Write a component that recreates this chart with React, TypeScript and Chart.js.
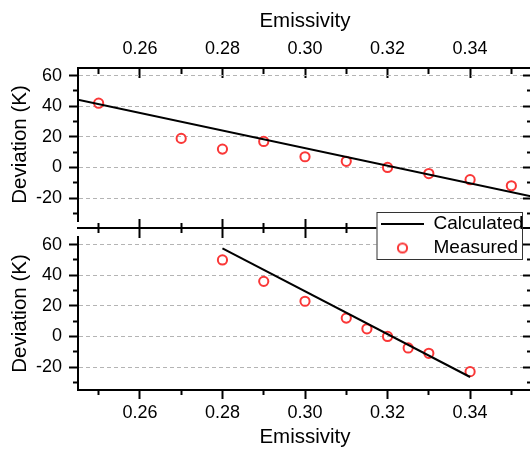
import React, { useEffect, useRef } from 'react';
import { Chart, registerables } from 'chart.js';

Chart.register(...registerables);

// ---------------- data ----------------
const seriesNames = ['Calculated', 'Measured'];

const xMajorTicks = [0.26, 0.28, 0.30, 0.32, 0.34];
const xTickLabels = ['0.26', '0.28', '0.30', '0.32', '0.34'];
const xMinorTicks = [0.25, 0.27, 0.29, 0.31, 0.33, 0.35];
const yMajorTicks = [-20, 0, 20, 40, 60];
const yTickLabels = ['-20', '0', '20', '40', '60'];
const yMinorTicks = [-30, -10, 10, 30, 50];

const topMeasuredX = [0.25, 0.27, 0.28, 0.29, 0.30, 0.31, 0.32, 0.33, 0.34, 0.35];
const topMeasuredY = [42, 19, 12, 17, 7, 4, 0, -4, -8, -12];
const topCalcX = [0.245, 0.355];
const topCalcY = [44.3, -19.0];

const botMeasuredX = [0.28, 0.29, 0.30, 0.31, 0.315, 0.32, 0.325, 0.33, 0.34];
const botMeasuredY = [50, 36, 23, 12, 5, 0, -7.5, -11, -23];
const botCalcX = [0.28, 0.34];
const botCalcY = [57.5, -26.5];

const X_RANGE = [0.245, 0.355];
const Y_RANGE = [-35, 65];

// ---------------- style ----------------
const FONT = "'Liberation Sans', Arial, sans-serif";
const RED = 'rgb(250, 55, 55)';
const GRID = '#b4b4b4';
const PANEL_H = 153; // px height of each panel's plot area

const tickFont = { family: FONT, size: 18, lineHeight: 1 };
const titleFont = { family: FONT, size: 20.5, lineHeight: 1 };

const pts = (xs: number[], ys: number[]) => xs.map((x, i) => ({ x, y: ys[i] }));
// value slightly above the panel top (used for the divider axis between panels)
const yAbove = (px: number) => Y_RANGE[1] + (px * (Y_RANGE[1] - Y_RANGE[0])) / PANEL_H;

type AxisSpec = {
  axis: 'x' | 'y';
  position: any;
  ticks: number[];
  labels?: string[];
  tickLen: number;
  size: number;
  weight: number;
  border?: boolean;
  grid?: boolean;
  title?: string;
  titlePad?: any;
  labelPad?: number;
};

function makeAxis(s: AxisSpec) {
  const isX = s.axis === 'x';
  return {
    type: 'linear',
    axis: s.axis,
    position: s.position,
    weight: s.weight,
    min: isX ? X_RANGE[0] : Y_RANGE[0],
    max: isX ? X_RANGE[1] : Y_RANGE[1],
    afterBuildTicks: (scale: any) => {
      scale.ticks = s.ticks.map((v) => ({ value: v }));
    },
    afterFit: (scale: any) => {
      if (isX) scale.height = s.size;
      else scale.width = s.size;
    },
    grid: {
      display: true,
      drawOnChartArea: !!s.grid,
      drawTicks: s.tickLen !== 0,
      tickLength: s.tickLen,
      tickWidth: 2,
      tickColor: '#000',
      color: GRID,
      lineWidth: 1,
    },
    border: { display: !!s.border, color: '#000', width: 2, dash: [4, 3] },
    ticks: {
      display: !!s.labels,
      autoSkip: false,
      maxRotation: 0,
      minRotation: 0,
      padding: s.labelPad ?? 0,
      font: tickFont,
      color: '#000',
      callback: (_v: any, i: number) => (s.labels ? s.labels[i] ?? '' : ''),
    },
    title: s.title
      ? { display: true, text: s.title, font: titleFont, color: '#000', padding: s.titlePad }
      : { display: false },
  };
}

function yAxes() {
  return {
    y: makeAxis({ axis: 'y', position: 'left', ticks: yMajorTicks, labels: yTickLabels, tickLen: 9, size: 78, weight: 10, border: true, grid: true, title: 'Deviation (K)', titlePad: { top: 10.5, bottom: 0 }, labelPad: 7 }),
    yMinor: makeAxis({ axis: 'y', position: 'left', ticks: yMinorTicks, tickLen: 5, size: 0, weight: 0 }),
    yRight: makeAxis({ axis: 'y', position: 'right', ticks: yMajorTicks, tickLen: -9, size: 8, weight: 10, border: true }),
    yRightMinor: makeAxis({ axis: 'y', position: 'right', ticks: yMinorTicks, tickLen: -5, size: 0, weight: 0 }),
  };
}

function measuredDataset(xs: number[], ys: number[]) {
  return {
    type: 'scatter',
    label: seriesNames[1],
    data: pts(xs, ys),
    showLine: false,
    pointStyle: 'circle',
    pointRadius: 4.6,
    pointBorderWidth: 2,
    borderColor: RED,
    pointBorderColor: RED,
    backgroundColor: 'rgba(0,0,0,0)',
    pointBackgroundColor: 'rgba(0,0,0,0)',
  };
}

function calcDataset(xs: number[], ys: number[]) {
  return {
    type: 'scatter',
    label: seriesNames[0],
    data: pts(xs, ys),
    showLine: true,
    borderColor: '#000',
    borderWidth: 2,
    pointRadius: 0,
    pointStyle: 'line',
    pointBorderWidth: 2,
    pointBorderColor: '#000',
    fill: false,
  };
}

function makeCircleMarker() {
  const c = document.createElement('canvas');
  c.width = 15;
  c.height = 15;
  const ctx = c.getContext('2d')!;
  ctx.strokeStyle = RED;
  ctx.lineWidth = 2;
  ctx.beginPath();
  ctx.arc(7.5, 7.5, 4.6, 0, Math.PI * 2);
  ctx.stroke();
  return c;
}

// Legend box: placed over the boundary between the two panels, with a white frame.
const LEGEND_BOX = { left: 376, top: 209.5, width: 154, height: 70 };
const LEGEND_FRAME = { x: 376.5, y: 212, w: 146.5, h: 48 };

const legendFramePlugin = {
  id: 'legendFrame',
  beforeLayout(chart: any) {
    const lg = chart.legend;
    if (!lg || lg._framePatched) return;
    lg._framePatched = true;
    lg._layers = () => [
      {
        z: 10,
        draw: (area: any) => {
          const ctx = chart.ctx;
          ctx.save();
          ctx.fillStyle = '#fff';
          ctx.fillRect(LEGEND_FRAME.x, LEGEND_FRAME.y, LEGEND_FRAME.w, LEGEND_FRAME.h);
          ctx.strokeStyle = '#333';
          ctx.lineWidth = 1;
          ctx.strokeRect(LEGEND_FRAME.x + 0.5, LEGEND_FRAME.y + 0.5, LEGEND_FRAME.w - 1, LEGEND_FRAME.h - 1);
          ctx.restore();
          lg.draw(area);
        },
      },
    ];
  },
  afterLayout(chart: any) {
    const lg = chart.legend;
    if (!lg) return;
    lg.left = LEGEND_BOX.left;
    lg.top = LEGEND_BOX.top;
    lg.width = LEGEND_BOX.width;
    lg.height = LEGEND_BOX.height;
    lg.right = lg.left + lg.width;
    lg.bottom = lg.top + lg.height;
  },
};

function configTop(): any {
  return {
    type: 'scatter',
    data: {
      datasets: [calcDataset(topCalcX, topCalcY), measuredDataset(topMeasuredX, topMeasuredY)],
    },
    options: {
      animation: false,
      responsive: false,
      events: [],
      layout: { padding: { left: 0, right: 0, top: 0, bottom: 228 } },
      plugins: { legend: { display: false }, tooltip: { enabled: false } },
      scales: {
        x: makeAxis({ axis: 'x', position: 'top', ticks: xMajorTicks, labels: xTickLabels, tickLen: -10, size: 68, weight: 10, border: true, title: 'Emissivity', titlePad: { top: 11, bottom: 0 }, labelPad: 20 }),
        xMinor: makeAxis({ axis: 'x', position: 'top', ticks: xMinorTicks, tickLen: -6, size: 0, weight: 0 }),
        ...yAxes(),
      },
    },
  };
}

function configBottom(marker: HTMLCanvasElement): any {
  return {
    type: 'scatter',
    data: {
      datasets: [calcDataset(botCalcX, botCalcY), measuredDataset(botMeasuredX, botMeasuredY)],
    },
    plugins: [legendFramePlugin],
    options: {
      animation: false,
      responsive: false,
      events: [],
      layout: { padding: { left: 0, right: 0, top: 237, bottom: 0 } },
      plugins: {
        tooltip: { enabled: false },
        legend: {
          display: true,
          position: 'chartArea',
          align: 'start',
          fullSize: false,
          labels: {
            usePointStyle: true,
            pointStyleWidth: 43,
            padding: 5,
            color: '#000',
            font: { family: FONT, size: 19, lineHeight: 1 },
            generateLabels: (chart: any) => {
              const items = (Chart as any).defaults.plugins.legend.labels.generateLabels(chart);
              return items.map((it: any) => (it.text === seriesNames[1] ? { ...it, pointStyle: marker } : it));
            },
          },
        },
      },
      scales: {
        x: makeAxis({ axis: 'x', position: 'bottom', ticks: xMajorTicks, labels: xTickLabels, tickLen: 9, size: 59, weight: 10, border: true, title: 'Emissivity', titlePad: { top: 0, bottom: 1 }, labelPad: 5 }),
        xMinor: makeAxis({ axis: 'x', position: 'bottom', ticks: xMinorTicks, tickLen: 5, size: 0, weight: 0 }),
        // divider axis line between the panels, with crossing ticks
        xDivLine: makeAxis({ axis: 'x', position: { y: yAbove(9) }, ticks: xMajorTicks, tickLen: 0, size: 0, weight: 20, border: true }),
        xDivMajor: makeAxis({ axis: 'x', position: { y: yAbove(18) }, ticks: xMajorTicks, tickLen: 19, size: 0, weight: 21 }),
        xDivMinor: makeAxis({ axis: 'x', position: { y: yAbove(14) }, ticks: xMinorTicks, tickLen: 10, size: 0, weight: 22 }),
        ...yAxes(),
      },
    },
  };
}

export default function App() {
  const refTop = useRef<HTMLCanvasElement>(null);
  const refBot = useRef<HTMLCanvasElement>(null);

  useEffect(() => {
    const a = new Chart(refTop.current!, configTop());
    const b = new Chart(refBot.current!, configBottom(makeCircleMarker()));
    return () => {
      a.destroy();
      b.destroy();
    };
  }, []);

  const canvasStyle: React.CSSProperties = { position: 'absolute', left: 0, top: 0, width: 540, height: 449 };
  return (
    <div style={{ position: 'absolute', left: 0, top: 0, width: 530, height: 449, overflow: 'hidden', background: '#fff' }}>
      <canvas ref={refTop} width={540} height={449} style={canvasStyle} />
      <canvas ref={refBot} width={540} height={449} style={canvasStyle} />
    </div>
  );
}
